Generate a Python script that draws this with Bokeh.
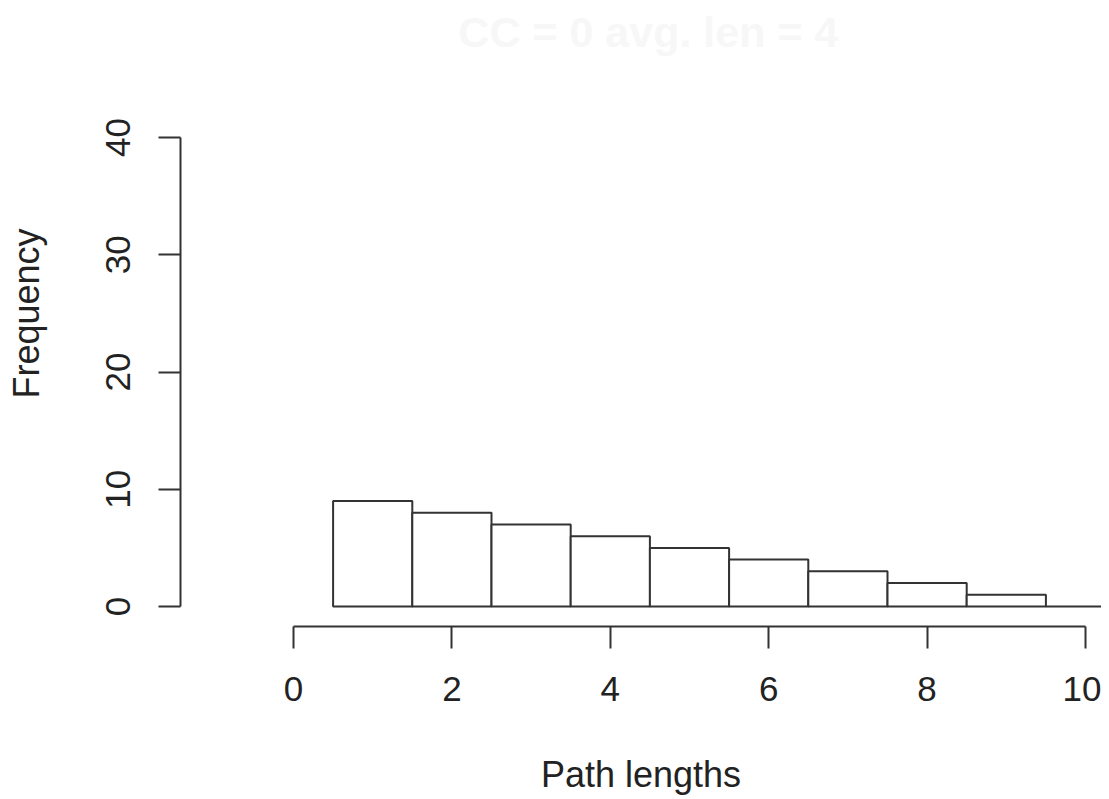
from bokeh.plotting import figure
from bokeh.models import Range1d, FixedTicker, Label
from bokeh.embed import file_html
from bokeh.resources import INLINE

# data
path_lengths = [1, 2, 3, 4, 5, 6, 7, 8, 9, 10]
frequencies = [9, 8, 7, 6, 5, 4, 3, 2, 1, 0]
x_ticks = [0, 2, 4, 6, 8, 10]
y_ticks = [0, 10, 20, 30, 40]
title_text = "CC = 0  avg. len = 4"
x_label = "Path lengths"
y_label = "Frequency"

FONT = "Liberation Sans"
INK = "#333333"

W, H = 1101, 797
left_b, bottom_b = 180, H - 626
frame_w = W - left_b
frame_h = H - bottom_b

xpx = 79.2   # px per x unit
ypx = 11.725 # px per y unit
x0 = -(293 - left_b) / xpx
x1 = x0 + frame_w / xpx
y0 = -(626 - 606) / ypx
y1 = y0 + frame_h / ypx

p = figure(width=W, height=H, output_backend="svg", toolbar_location=None,
           x_range=Range1d(x0, x1), y_range=Range1d(y0, y1),
           min_border_left=left_b, min_border_right=0, min_border_top=0,
           min_border_bottom=bottom_b)
p.outline_line_color = None
p.grid.visible = False
p.background_fill_color = "white"
p.border_fill_color = "white"

lefts = [v - 0.5 for v in path_lengths]
rights = [v + 0.5 for v in path_lengths]
p.quad(left=lefts, right=rights, bottom=0, top=frequencies,
       fill_color="white", line_color=INK, line_width=2)

for ax, ticks in ((p.xaxis[0], x_ticks), (p.yaxis[0], y_ticks)):
    ax.ticker = FixedTicker(ticks=ticks)
    ax.bounds = (ticks[0], ticks[-1])
    ax.minor_tick_line_color = None
    ax.major_tick_in = 0
    ax.major_tick_out = 22
    ax.axis_line_color = INK
    ax.axis_line_width = 2
    ax.major_tick_line_color = INK
    ax.major_tick_line_width = 2
    ax.major_label_text_font = FONT
    ax.major_label_text_font_size = "35px"
    ax.major_label_text_color = "#222222"
    ax.axis_label_text_font = FONT
    ax.axis_label_text_font_size = "36px"
    ax.axis_label_text_font_style = "normal"
    ax.axis_label_text_color = "#222222"

p.xaxis.axis_label = x_label
p.yaxis.axis_label = y_label
p.xaxis.major_label_standoff = 28
p.yaxis.major_label_standoff = 29
p.yaxis.major_label_orientation = "vertical"
p.xaxis.axis_label_standoff = 50
p.yaxis.axis_label_standoff = 56

p.add_layout(Label(x=4.556, y=49.0, text=title_text, text_align="center",
                   text_baseline="middle", text_font=FONT,
                   text_font_size="43px", text_font_style="bold",
                   text_color="#f7f7f7"))

open("out.html", "w").write(file_html(p, INLINE))
